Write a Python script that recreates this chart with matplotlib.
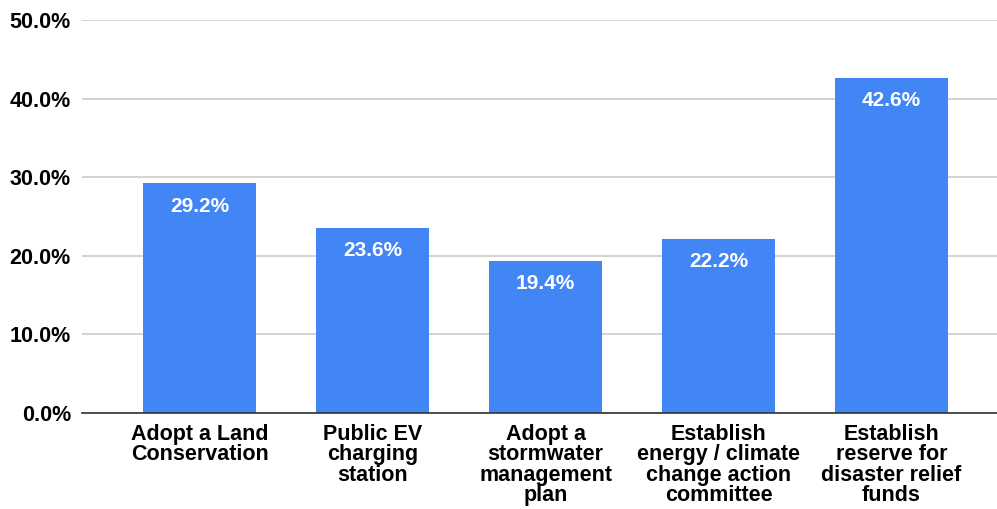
import matplotlib.pyplot as plt
from matplotlib.ticker import FuncFormatter

# ─── DATA ─────────────────────────────────────────────────────────────────────
categories = [
    "Adopt a Land\nConservation",
    "Public EV\ncharging\nstation",
    "Adopt a\nstormwater\nmanagement\nplan",
    "Establish\nenergy / climate\nchange action\ncommittee",
    "Establish\nreserve for\ndisaster relief\nfunds",
]
values = [29.2, 23.6, 19.4, 22.2, 42.6]
yticks = [0, 10, 20, 30, 40, 50]
# ──────────────────────────────────────────────────────────────────────────────

BAR_COLOR = "#4285F4"
plt.rcParams["font.family"] = ["Liberation Sans", "DejaVu Sans"]
plt.rcParams["font.weight"] = "bold"

fig = plt.figure(figsize=(9.97, 5.09), dpi=100)
ax = fig.add_axes([82 / 997, (509 - 413) / 509, (997 - 82) / 997, (413 - 20) / 509])

x = list(range(len(categories)))
bars = ax.bar(x, values, width=0.654, color=BAR_COLOR, zorder=3)

for xi, v in zip(x, values):
    ax.annotate(f"{v:.1f}%", (xi, v), xytext=(0, -9.5), textcoords="offset points",
                ha="center", va="top", color="white", fontsize=15, fontweight="bold",
                zorder=4)

ax.set_ylim(0, 50)
ax.set_xlim(-0.681, 4.61)
ax.set_yticks(yticks)
ax.yaxis.set_major_formatter(FuncFormatter(lambda v, _: f"{v:.1f}%"))
ax.grid(axis="y", color="#cccccc", linewidth=1.2, zorder=0)
ax.set_xticks(x)
ax.set_xticklabels(categories, fontsize=15.5, fontweight="bold", linespacing=0.95)
for lab in ax.get_yticklabels():
    lab.set_fontsize(15.5)
    lab.set_fontweight("bold")

ax.tick_params(axis="both", length=0)
ax.tick_params(axis="y", pad=8)
ax.tick_params(axis="x", pad=8)
for side in ["top", "right", "left"]:
    ax.spines[side].set_visible(False)
ax.spines["bottom"].set_color("#333333")
ax.spines["bottom"].set_linewidth(1.2)
ax.spines["bottom"].set_zorder(5)

fig.savefig("out.png", dpi=100)
